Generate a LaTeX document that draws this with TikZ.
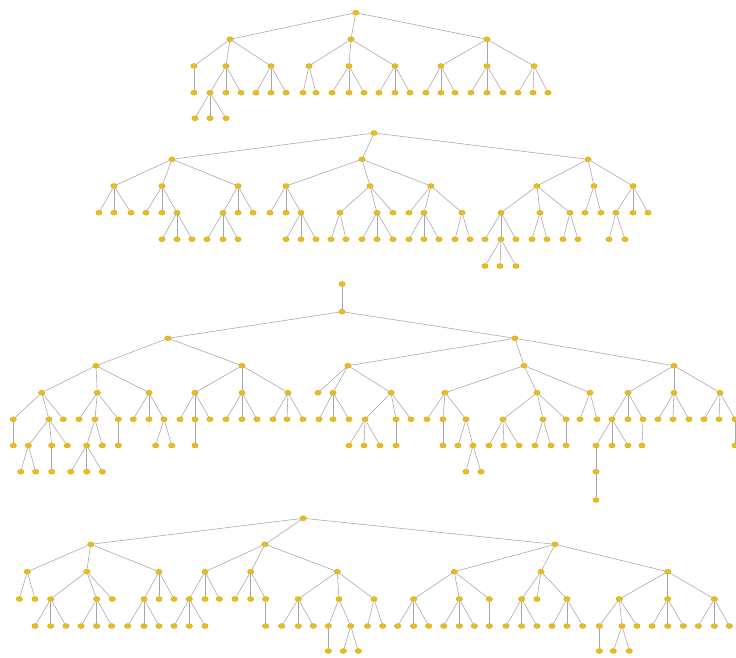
\documentclass[tikz,border=0pt]{standalone}
\usetikzlibrary{shapes.geometric}
\definecolor{dotfill}{RGB}{232,190,28}
\definecolor{dotline}{RGB}{205,160,10}
\definecolor{linkgray}{RGB}{165,165,172}
\tikzset{
  dot/.style={ellipse, fill=dotfill, draw=dotline, line width=0.3pt, minimum width=6.4pt, minimum height=5pt, inner sep=0pt},
  link/.style={draw=linkgray, line width=0.55pt}
}
\begin{document}
\begin{tikzpicture}[x=1pt,y=-1pt]
\fill[white] (0,0) rectangle (736,658);
\useasboundingbox (0,0) rectangle (736,658);
% ---------------- Tree A ----------------
\node[dot] (A0) at (355.7,12.7) {};
\foreach \n/\x/\y/\p in {
 A1/230/39.3/A0, A2/351/39.3/A0, A3/487/39.3/A0,
 A4/194/66/A1, A5/226/66/A1, A6/271/66/A1,
 A7/309/66/A2, A8/349/66/A2, A9/395/66/A2,
 A10/441/66/A3, A11/487/66/A3, A12/534/66/A3,
 A13/194/92.7/A4,
 A14/210/92.7/A5, A15/226/92.7/A5, A16/241/92.7/A5,
 A17/256/92.7/A6, A18/271/92.7/A6, A19/286/92.7/A6,
 A20/303/92.7/A7, A21/316/92.7/A7,
 A22/332/92.7/A8, A23/349/92.7/A8, A24/364/92.7/A8,
 A25/379/92.7/A9, A26/395/92.7/A9, A27/410/92.7/A9,
 A28/426/92.7/A10, A29/441/92.7/A10, A30/455/92.7/A10,
 A31/471/92.7/A11, A32/487/92.7/A11, A33/503/92.7/A11,
 A34/518/92.7/A12, A35/533/92.7/A12, A36/548/92.7/A12,
 A37/195/118.3/A14, A38/210/118.3/A14, A39/226/118.3/A14}
 { \node[dot] (\n) at (\x,\y) {}; \draw[link] (\p) -- (\n); }
% ---------------- Tree B ----------------
\node[dot] (B0) at (374,133) {};
\foreach \n/\x/\y/\p in {
 B1/172/159.3/B0, B2/362/159.3/B0, B3/588/159.3/B0,
 B4/114/186/B1, B5/162/186/B1, B6/238/186/B1,
 B7/286/186/B2, B8/370/186/B2, B9/431/186/B2,
 B10/537/186/B3, B11/594/186/B3, B12/633/186/B3,
 B13/99/212.7/B4, B14/114/212.7/B4, B15/131/212.7/B4,
 B16/146/212.7/B5, B17/162/212.7/B5, B18/177/212.7/B5,
 B19/223/212.7/B6, B20/238/212.7/B6, B21/253/212.7/B6,
 B22/270/212.7/B7, B23/286/212.7/B7, B24/301/212.7/B7,
 B25/340/212.7/B8, B26/377/212.7/B8, B27/393/212.7/B8,
 B28/409/212.7/B9, B29/424/212.7/B9, B30/462/212.7/B9,
 B31/501/212.7/B10, B32/540/212.7/B10, B33/570/212.7/B10,
 B34/585/212.7/B11, B35/601/212.7/B11,
 B36/616/212.7/B12, B37/633/212.7/B12, B38/648/212.7/B12,
 B39/162/239.3/B18, B40/177/239.3/B18, B41/192/239.3/B18,
 B42/207/239.3/B19, B43/223/239.3/B19, B44/238/239.3/B19,
 B45/286/239.3/B24, B46/301/239.3/B24, B47/316/239.3/B24,
 B48/331/239.3/B25, B49/346/239.3/B25,
 B50/362/239.3/B26, B51/377/239.3/B26, B52/393/239.3/B26,
 B53/409/239.3/B29, B54/424/239.3/B29, B55/439/239.3/B29,
 B56/455/239.3/B30, B57/470/239.3/B30,
 B58/485/239.3/B31, B59/501/239.3/B31, B60/516/239.3/B31,
 B61/532/239.3/B32, B62/547/239.3/B32,
 B63/563/239.3/B33, B64/578/239.3/B33,
 B65/609/239.3/B36, B66/625/239.3/B36,
 B67/485/266/B59, B68/500/266/B59, B69/516/266/B59}
 { \node[dot] (\n) at (\x,\y) {}; \draw[link] (\p) -- (\n); }
% ---------------- Tree C ----------------
\node[dot] (C0) at (342,284) {};
\foreach \n/\x/\y/\p in {
 C1/342/311.7/C0,
 C2/168/338.3/C1, C3/515/338.3/C1,
 C4/96/365.7/C2, C5/242/365.7/C2,
 C6/348/365.7/C3, C7/524/365.7/C3, C8/674/365.7/C3,
 C9/41.7/392.7/C4, C10/97.3/392.7/C4, C11/149/392.7/C4,
 C12/195/392.7/C5, C13/242/392.7/C5, C14/288/392.7/C5,
 C15/318/392.7/C6, C16/333/392.7/C6, C17/391/392.7/C6,
 C18/445/392.7/C7, C19/537/392.7/C7, C20/590/392.7/C7,
 C21/628/392.7/C8, C22/674/392.7/C8, C23/720/392.7/C8,
 C24/13.3/419.3/C9, C25/49/419.3/C9, C26/63.3/419.3/C9,
 C27/79/419.3/C10, C28/95/419.3/C10, C29/118.3/419.3/C10,
 C30/133.3/419.3/C11, C31/149/419.3/C11, C32/164/419.3/C11,
 C33/180/419.3/C12, C34/195/419.3/C12, C35/210/419.3/C12,
 C36/226/419.3/C13, C37/242/419.3/C13, C38/257/419.3/C13,
 C39/273/419.3/C14, C40/287/419.3/C14, C41/303/419.3/C14,
 C42/319/419.3/C16, C43/333/419.3/C16, C44/349/419.3/C16,
 C45/365/419.3/C17, C46/396/419.3/C17, C47/411/419.3/C17,
 C48/427/419.3/C18, C49/443/419.3/C18, C50/466/419.3/C18,
 C51/503/419.3/C19, C52/543/419.3/C19, C53/566/419.3/C19,
 C54/580/419.3/C20, C55/597/419.3/C20,
 C56/612/419.3/C21, C57/628/419.3/C21, C58/643/419.3/C21,
 C59/658/419.3/C22, C60/673/419.3/C22, C61/689/419.3/C22,
 C62/704/419.3/C23, C63/719/419.3/C23, C64/735/419.3/C23,
 C65/13.3/445.5/C24,
 C66/28.3/445.5/C25, C67/51.7/445.5/C25, C68/67.3/445.5/C25,
 C69/86.7/445.5/C28, C70/102.3/445.5/C28,
 C71/118.3/445.5/C29,
 C72/155.7/445.5/C32, C73/171.7/445.5/C32,
 C74/195/445.5/C34,
 C75/349/445.5/C45, C76/364/445.5/C45, C77/380/445.5/C45,
 C78/396/445.5/C46,
 C79/443/445.5/C49,
 C80/458/445.5/C50, C81/473/445.5/C50,
 C82/489/445.5/C51, C83/504/445.5/C51, C84/519/445.5/C51,
 C85/535/445.5/C52, C86/551/445.5/C52,
 C87/566/445.5/C53,
 C88/596/445.5/C56, C89/612/445.5/C56, C90/628/445.5/C56,
 C91/642/445.5/C58,
 C92/735/445.5/C64,
 C93/20.7/471.7/C66, C94/35.7/471.7/C66,
 C95/51.7/471.7/C67,
 C96/70.7/471.7/C69, C97/86.7/471.7/C69, C98/102.3/471.7/C69,
 C99/466/471.7/C81, C100/481/471.7/C81,
 C101/596/471.7/C88,
 C102/596/500/C101}
 { \node[dot] (\n) at (\x,\y) {}; \draw[link] (\p) -- (\n); }
% ---------------- Tree D ----------------
\node[dot] (D0) at (303.3,518.3) {};
\foreach \n/\x/\y/\p in {
 D1/90.7/544.3/D0, D2/265/544.3/D0, D3/555/544.3/D0,
 D4/27.3/571.7/D1, D5/86.7/571.7/D1, D6/159/571.7/D1,
 D7/205/571.7/D2, D8/250.7/571.7/D2, D9/337.3/571.7/D2,
 D10/454.3/571.7/D3, D11/541/571.7/D3, D12/667.7/571.7/D3,
 D13/19.3/599/D4, D14/35/599/D4,
 D15/50.7/599/D5, D16/96.7/599/D5, D17/112.3/599/D5,
 D18/144/599/D6, D19/159/599/D6, D20/174/599/D6,
 D21/189.3/599/D7, D22/205/599/D7, D23/219.3/599/D7,
 D24/235/599/D8, D25/250.7/599/D8, D26/265.7/599/D8,
 D27/298.3/599/D9, D28/339/599/D9, D29/374/599/D9,
 D30/413.7/599/D10, D31/459.3/599/D10, D32/489.3/599/D10,
 D33/521.7/599/D11, D34/537/599/D11, D35/567/599/D11,
 D36/619.3/599/D12, D37/667.7/599/D12, D38/714.3/599/D12,
 D39/35/626/D15, D40/50.7/626/D15, D41/66/626/D15,
 D42/81/626/D16, D43/96.7/626/D16, D44/111.7/626/D16,
 D45/127.7/626/D18, D46/144/626/D18, D47/159/626/D18,
 D48/174/626/D21, D49/189.3/626/D21, D50/205/626/D21,
 D51/265.7/626/D26,
 D52/281.7/626/D27, D53/298.3/626/D27, D54/313.3/626/D27,
 D55/328.3/626/D28, D56/350.7/626/D28,
 D57/367.5/626/D29, D58/382.7/626/D29,
 D59/397.7/626/D30, D60/413.7/626/D30, D61/428.7/626/D30,
 D62/443.7/626/D31, D63/459.3/626/D31, D64/474.3/626/D31,
 D65/489.3/626/D32,
 D66/506/626/D33, D67/521.7/626/D33, D68/537/626/D33,
 D69/552/626/D35, D70/567/626/D35, D71/582.7/626/D35,
 D72/599.3/626/D36, D73/622/626/D36, D74/637/626/D36,
 D75/652/626/D37, D76/667.7/626/D37, D77/683.3/626/D37,
 D78/698.3/626/D38, D79/714.3/626/D38, D80/729.3/626/D38,
 D81/328.3/651/D55,
 D82/343.3/651/D56, D83/358.3/651/D56,
 D84/599.3/651/D72,
 D85/613.3/651/D73, D86/629.3/651/D73}
 { \node[dot] (\n) at (\x,\y) {}; \draw[link] (\p) -- (\n); }
\end{tikzpicture}
\end{document}
